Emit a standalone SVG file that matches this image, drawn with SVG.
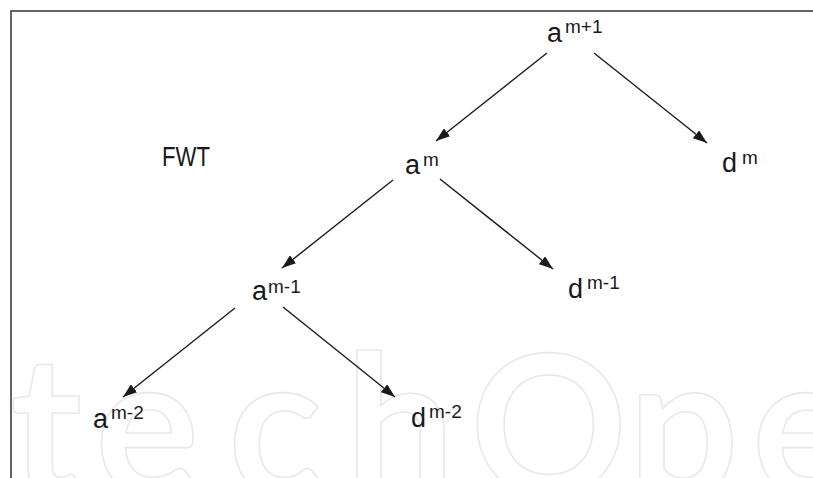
<svg xmlns="http://www.w3.org/2000/svg" width="813" height="478" viewBox="0 0 813 478">
<style>
.lbl{font-family:"Liberation Sans",Arial,sans-serif;font-size:27px;fill:#1a1a1a}
.sup{font-size:19px}
.edge{stroke:#1a1a1a;stroke-width:1.4;fill:none;marker-end:url(#ah)}
.wm{font-family:Lato,"Liberation Sans",sans-serif;font-size:195px;font-weight:700;fill:none;stroke:#e8e8e8;stroke-width:1.6}
</style>
<defs>
<marker id="ah" markerUnits="userSpaceOnUse" markerWidth="15" markerHeight="10" refX="14" refY="5" orient="auto">
<path d="M0,0 L14,5 L0,10 z" fill="#1a1a1a"/>
</marker>
</defs>
<rect width="813" height="478" fill="#fff"/>
<g id="watermark">
<text class="wm" x="10 95 228 345 470 628 752" y="495">techOpe</text>
</g>
<g id="frame" stroke="#333" stroke-width="1.5" fill="none">
<path d="M11,478 V11 H813"/>
</g>
<g id="connectors">
<line class="edge" x1="547" y1="53" x2="436" y2="141"/>
<line class="edge" x1="594" y1="53" x2="707" y2="143"/>
<line class="edge" x1="393" y1="180" x2="282" y2="268"/>
<line class="edge" x1="440" y1="179" x2="553" y2="269"/>
<line class="edge" x1="235" y1="308" x2="123" y2="397"/>
<line class="edge" x1="283" y1="307" x2="395" y2="397"/>
</g>
<g id="label-fwt"><text class="lbl" x="162" y="166" font-size="24" textLength="48" lengthAdjust="spacingAndGlyphs">FWT</text></g>
<g id="node-am1"><text class="lbl" x="547" y="42">a<tspan class="sup" x="565" y="33">m+1</tspan></text></g>
<g id="node-am"><text class="lbl" x="405" y="174">a<tspan class="sup" x="423" y="166">m</tspan></text></g>
<g id="node-dm"><text class="lbl" x="722" y="172">d<tspan class="sup" x="742" y="164">m</tspan></text></g>
<g id="node-am-1"><text class="lbl" x="252" y="300">a<tspan class="sup" x="268" y="293">m-1</tspan></text></g>
<g id="node-dm-1"><text class="lbl" x="568" y="298">d<tspan class="sup" x="587" y="289">m-1</tspan></text></g>
<g id="node-am-2"><text class="lbl" x="93" y="428">a<tspan class="sup" x="111" y="419">m-2</tspan></text></g>
<g id="node-dm-2"><text class="lbl" x="411" y="427">d<tspan class="sup" x="429" y="418">m-2</tspan></text></g>
</svg>
